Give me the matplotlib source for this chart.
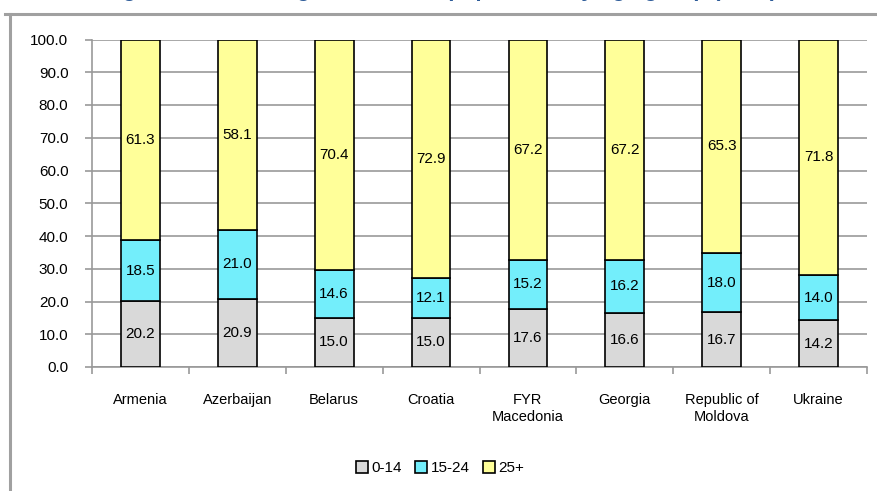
import matplotlib
matplotlib.use("Agg")
import matplotlib.pyplot as plt
from matplotlib.lines import Line2D
from matplotlib.patches import Patch
import numpy as np

plt.rcParams['font.family'] = ['Liberation Sans', 'DejaVu Sans']

countries = ["Armenia", "Azerbaijan", "Belarus", "Croatia", "FYR\nMacedonia",
             "Georgia", "Republic of\nMoldova", "Ukraine"]
age_0_14 = [20.2, 20.9, 15.0, 15.0, 17.6, 16.6, 16.7, 14.2]
age_15_24 = [18.5, 21.0, 14.6, 12.1, 15.2, 16.2, 18.0, 14.0]
age_25p = [61.3, 58.1, 70.4, 72.9, 67.2, 67.2, 65.3, 71.8]
series_names = ["0-14", "15-24", "25+"]
colors = ["#D9D9D9", "#73EEFB", "#FFFF99"]
title = "Figure 2: Percentage of the total population by age group (2010)"

W, H = 877, 491
fig = plt.figure(figsize=(W / 100, H / 100), dpi=100)

# outer frame lines (top and left)
fig.add_artist(Line2D([5 / W, 1.0], [1 - 13.5 / H, 1 - 13.5 / H], color="#A0A0A0", lw=2.2))
fig.add_artist(Line2D([9.5 / W, 9.5 / W], [0, 1 - 13.5 / H], color="#A0A0A0", lw=2.2))

# cut-off title (only its lower part visible, as in the reference)
fig.text(440 / W, 1 + 4 / H, title, ha="center", va="baseline", fontsize=16,
         fontweight="bold", color="#2E5C99")

left, right, top, bottom = 92, 867, 39.5, 367
ax = fig.add_axes([left / W, 1 - bottom / H, (right - left) / W, (bottom - top) / H])

x = np.arange(len(countries))
bw = 0.4
bottoms = np.zeros(len(countries))
for vals, c in zip([age_0_14, age_15_24, age_25p], colors):
    vals = np.array(vals)
    ax.bar(x, vals, bw, bottom=bottoms, color=c, edgecolor="black", lw=1.2, zorder=3)
    for xi, b, v in zip(x, bottoms, vals):
        ax.text(xi, b + v / 2, f"{v:.1f}", ha="center", va="center", fontsize=11, zorder=4)
    bottoms = bottoms + vals

ax.set_xlim(-0.5, len(countries) - 0.5)
ax.set_ylim(0, 100)
ax.set_yticks(np.arange(0, 101, 10))
ax.set_yticklabels([f"{v:.1f}" for v in np.arange(0, 101, 10)], fontsize=11)
ax.yaxis.grid(True, color="#999999", lw=1.2, zorder=0)
ax.set_xticks(x)
ax.set_xticklabels(countries, fontsize=10.5, linespacing=1.2)
ax.set_xticks(np.arange(-0.5, len(countries)), minor=True)
ax.tick_params(axis="x", which="major", length=0, pad=19)
ax.tick_params(axis="x", which="minor", length=5, color="#999999", width=1.2)
ax.tick_params(axis="y", length=5, color="#999999", width=1.2, pad=12)
for s in ["top", "right"]:
    ax.spines[s].set_visible(False)
for s in ["left", "bottom"]:
    ax.spines[s].set_color("#999999")
    ax.spines[s].set_linewidth(1.2)

handles = [Patch(facecolor=c, edgecolor="black", lw=1.2) for c in colors]
fig.legend(handles, series_names, loc="center", bbox_to_anchor=(440 / W, 1 - 468 / H),
           ncol=3, frameon=False, fontsize=11, handlelength=0.8, handleheight=0.8,
           handletextpad=0.2, columnspacing=0.9)

fig.savefig("out.png", dpi=100)
